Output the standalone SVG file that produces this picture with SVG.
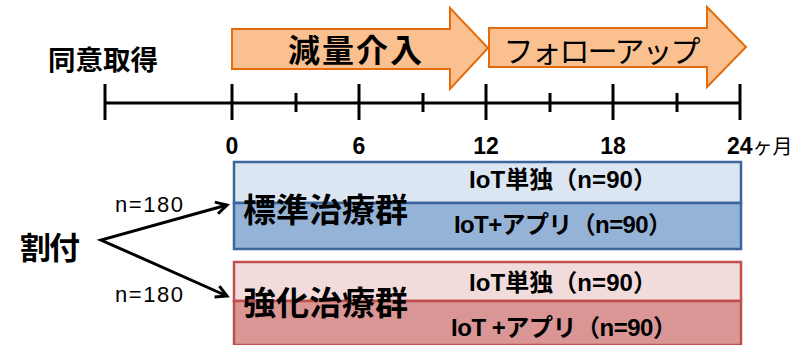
<svg xmlns="http://www.w3.org/2000/svg" width="808" height="345" viewBox="0 0 808 345">
<style>
text{font-family:"Liberation Sans","Noto Sans CJK JP",sans-serif;fill:#000}
.b{font-weight:bold}
.tick{stroke:#000;stroke-width:3;fill:none}
.arr{fill:#FAC090;stroke:#E46C0A;stroke-width:2}
.lbl{font-size:23px;font-weight:bold;text-anchor:middle}
.bl{stroke:#3B669A;stroke-width:2.5}
.rd{stroke:#C0504D;stroke-width:2.5}
.sub{font-size:24px;font-weight:bold;text-anchor:middle}
.grp{font-size:33px;font-weight:bold}
.conn{fill:none;stroke:#000;stroke-width:3}
</style>
<defs>
<marker id="oa" markerUnits="userSpaceOnUse" markerWidth="16" markerHeight="16" refX="13" refY="8" orient="auto-start-reverse">
<path d="M2,2 L13,8 L2,14" fill="none" stroke="#000" stroke-width="3"/>
</marker>
</defs>

<g id="timeline">
<line class="tick" x1="105" y1="103" x2="740" y2="103"/>
<path class="tick" d="M105,84V120 M232,84V120 M359,84V120 M486,84V120 M613,84V120 M740,84V120 M296,93V112 M423,93V112 M550,93V112 M677,93V112"/>
<text class="lbl" x="232" y="154">0</text>
<text class="lbl" x="359" y="154">6</text>
<text class="lbl" x="486" y="154">12</text>
<text class="lbl" x="613" y="154">18</text>
<text x="727" y="154" class="b" font-size="23">24<tspan font-size="20" font-weight="normal">ヶ月</tspan></text>
</g>

<g id="consent">
<text x="48" y="70" font-size="27" class="b" textLength="110" lengthAdjust="spacingAndGlyphs">同意取得</text>
</g>

<g id="phase-intervention">
<path class="arr" d="M232,29 H450 V8 L488,48 L450,89 V69 H232 Z"/>
<text x="355" y="62" font-size="32" class="b" text-anchor="middle" textLength="134">減量介入</text>
</g>

<g id="phase-followup">
<path class="arr" d="M489,28 H707 V7 L746,47 L707,87 V67 H489 Z"/>
<text x="602" y="62" font-size="30" text-anchor="middle" textLength="197">フォローアップ</text>
</g>

<g id="allocation">
<text x="20" y="259" font-size="31" class="b" textLength="60">割付</text>
</g>

<g id="standard-group">
<rect class="bl" x="234" y="162" width="507" height="41" fill="#DCE6F2"/>
<rect class="bl" x="234" y="203" width="507" height="46" fill="#95B3D7"/>
<text class="grp" x="243" y="222" textLength="165">標準治療群</text>
<text class="sub" x="563" y="188" textLength="188">IoT単独（n=90）</text>
<text class="sub" x="563" y="233" textLength="218">IoT+アプリ（n=90）</text>
</g>

<g id="intensive-group">
<rect class="rd" x="234" y="262" width="507" height="39" fill="#F2DCDB"/>
<rect class="rd" x="234" y="301" width="507" height="44" fill="#D99694"/>
<text class="grp" x="243" y="315" textLength="165">強化治療群</text>
<text class="sub" x="563" y="291" textLength="188">IoT単独（n=90）</text>
<text class="sub" x="564" y="336" textLength="226">IoT +アプリ（n=90）</text>
</g>

<g id="connectors">
<polyline class="conn" points="227,205 101,240 227,296" marker-start="url(#oa)" marker-end="url(#oa)" stroke-linejoin="miter"/>
<text x="115" y="212" font-size="22" textLength="68">n=180</text>
<text x="115" y="302" font-size="22" textLength="68">n=180</text>
</g>
</svg>
